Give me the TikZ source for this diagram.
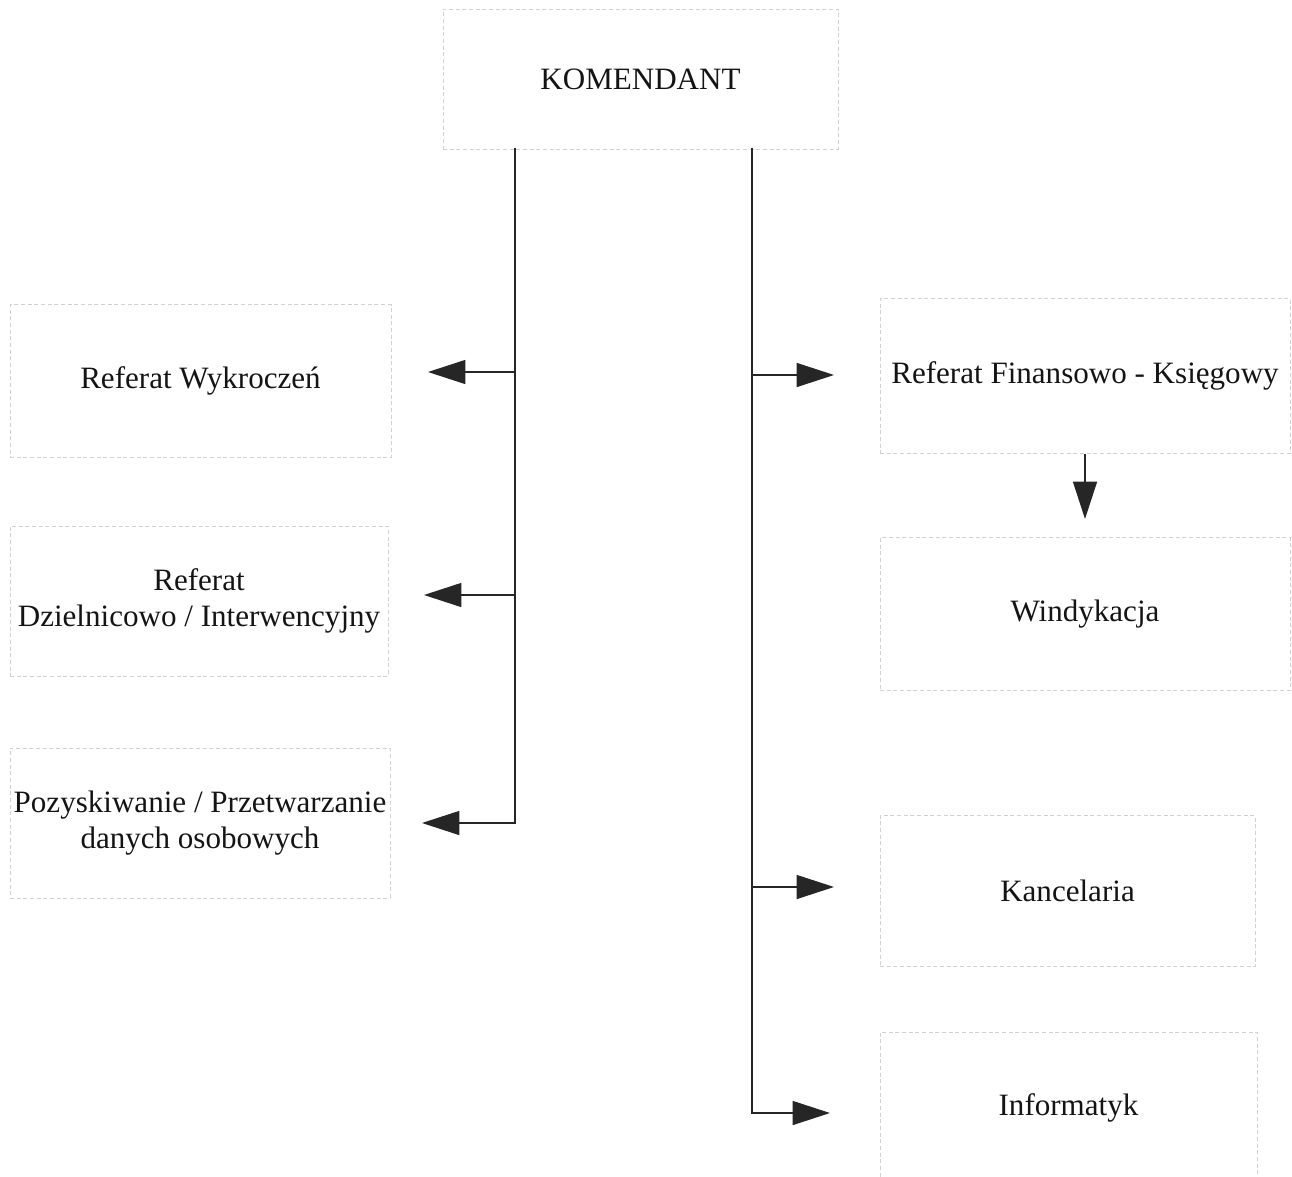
\documentclass[tikz,border=0pt]{standalone}
\usepackage{fontspec}
\setmainfont{Liberation Serif}
\usetikzlibrary{arrows.meta}
\begin{document}
\begin{tikzpicture}[x=0.75pt,y=-0.75pt,
  box/.style={draw=black!18, line width=0.5pt, densely dashed, rectangle, align=center, inner sep=0pt,
    font=\fontsize{23.3}{26.5}\selectfont, text=black!92},
  conn/.style={line width=1pt, draw=black!85},
  arr/.style={conn, -{Triangle[length=28pt,width=18pt]}}]
\useasboundingbox (0,0) rectangle (1292,1177);
\clip (0,0) rectangle (1292,1177);
\node[box, minimum width=296.25pt, minimum height=105pt] (kom) at (640.5,79) {KOMENDANT};
\node[box, minimum width=285.75pt, minimum height=114.75pt] (wyk) at (200.5,381) {Referat Wykroczeń};
\node[box, minimum width=283.5pt, minimum height=112.5pt] (dziel) at (199,601) {Referat\\Dzielnicowo / Interwencyjny};
\node[box, minimum width=285pt, minimum height=112.5pt] (poz) at (200,823) {Pozyskiwanie / Przetwarzanie\\danych osobowych};
\node[box, minimum width=307.5pt, minimum height=116.25pt] (fin) at (1085,376) {Referat Finansowo - Księgowy};
\node[box, minimum width=307.5pt, minimum height=114.75pt] (wind) at (1085,614) {Windykacja};
\node[box, minimum width=281.25pt, minimum height=113.25pt] (kanc) at (1067.5,891) {Kancelaria};
\node[box, minimum width=282.75pt, minimum height=114pt] (inf) at (1068.5,1108) {Informatyk};
% trunk tops
\coordinate (lt) at (515,148);
\coordinate (rt) at (752,148);
% arrow tips
\coordinate (t1) at (428,372);
\coordinate (t2) at (424,595);
\coordinate (t3) at (422,823);
\coordinate (t4) at (834,375);
\coordinate (t5) at (1085,519);
\coordinate (t6) at (834,887);
\coordinate (t7) at (830,1113);
% connectors
\draw[arr] (lt) |- (t3);
\draw[arr] (lt |- t1) -- (t1);
\draw[arr] (lt |- t2) -- (t2);
\draw[arr] (rt) |- (t7);
\draw[arr] (rt |- t4) -- (t4);
\draw[arr] (rt |- t6) -- (t6);
\draw[arr] (fin.south) -- (t5);
\end{tikzpicture}
\end{document}
